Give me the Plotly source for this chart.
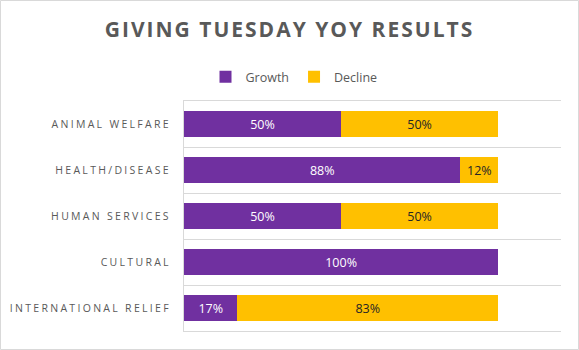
import plotly.graph_objects as go

categories = ["ANIMAL WELFARE", "HEALTH/DISEASE", "HUMAN SERVICES", "CULTURAL", "INTERNATIONAL RELIEF"]
growth = [50, 88, 50, 100, 17]
decline = [50, 12, 50, 0, 83]

PURPLE = "#7030A0"
YELLOW = "#FFC000"
GRAY = "#595959"
W, H = 579, 350
L, R, T, B = 184, 18, 101, 19
pw, ph = W - L - R, H - T - B

fig = go.Figure()
fig.add_trace(go.Bar(
    y=categories, x=growth, orientation="h", name="Growth",
    marker=dict(color=PURPLE, line=dict(width=0)),
    text=[f"{v}%" if v else "" for v in growth],
    textposition="inside", insidetextanchor="middle", textangle=0,
    constraintext="none",
    textfont=dict(color="white", size=12.5, family="Open Sans"),
))
fig.add_trace(go.Bar(
    y=categories, x=decline, orientation="h", name="Decline",
    marker=dict(color=YELLOW, line=dict(width=0)),
    text=[f"{v}%" if v else "" for v in decline],
    textposition="inside", insidetextanchor="middle", textangle=0,
    constraintext="none",
    textfont=dict(color="#262626", size=12.5, family="Open Sans"),
))

fig.update_layout(
    width=W, height=H,
    margin=dict(l=L, r=R, t=T, b=B, autoexpand=False),
    barmode="stack", bargap=0.43,
    paper_bgcolor="white", plot_bgcolor="white",
    font=dict(family="Open Sans", color=GRAY),
    title=dict(text="<b>GIVING TUESDAY YOY RESULTS</b>", xref="container", x=0.5,
               xanchor="center", yref="container", y=1 - 30 / H, yanchor="middle",
               font=dict(size=21, color=GRAY, family="Open Sans")),
    legend=dict(orientation="h", x=(294 - L) / pw, xanchor="center",
                y=(H - B - 77) / ph, yanchor="middle",
                font=dict(size=12.5, color=GRAY), traceorder="normal",
                itemwidth=30, bgcolor="rgba(0,0,0,0)"),
    xaxis=dict(range=[0, 120], showticklabels=False, showgrid=False, zeroline=False,
               showline=True, mirror=True, linecolor="#d9d9d9", fixedrange=True),
    yaxis=dict(autorange="reversed", tickson="boundaries", showgrid=True,
               gridcolor="#d9d9d9", gridwidth=1, showline=True, linecolor="#d9d9d9",
               ticks="", ticklabelstandoff=10,
               tickfont=dict(size=10.5, color=GRAY, family="Open Sans")),
    shapes=[dict(type="rect", xref="paper", yref="paper",
                 x0=(0.5 - L) / pw, x1=(W - 0.5 - L) / pw,
                 y0=(H - B - (H - 0.5)) / ph, y1=(H - B - 0.5) / ph,
                 line=dict(color="#d9d9d9", width=1), fillcolor="rgba(0,0,0,0)")],
)

post = (
    "document.querySelectorAll('.ytick text').forEach(function(t){t.style.letterSpacing='2.3px';});"
    "document.querySelectorAll('.gtitle').forEach(function(t){t.style.letterSpacing='2px';});"
)
fig.write_html("out.html", post_script=post)
